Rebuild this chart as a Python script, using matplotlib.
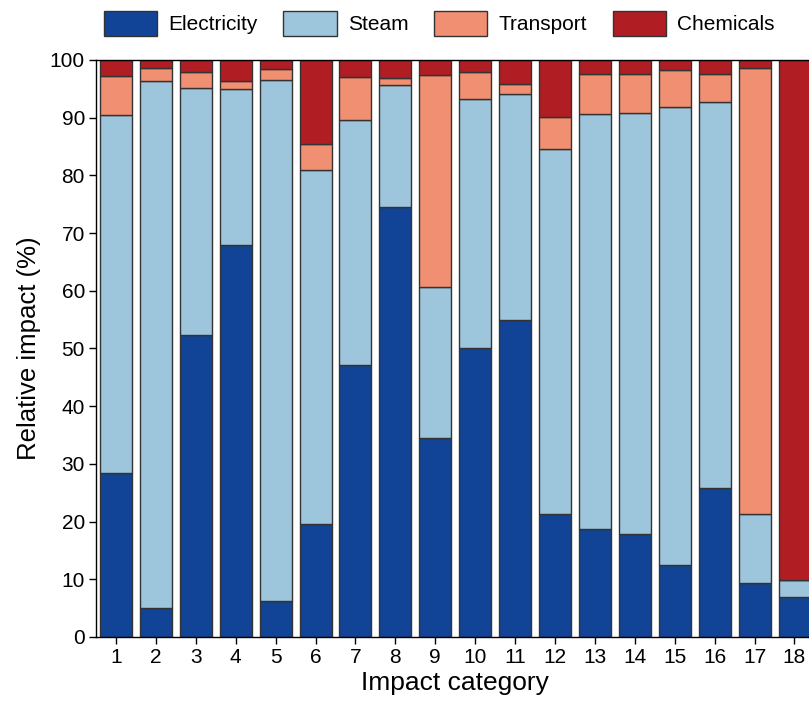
import numpy as np
import matplotlib
matplotlib.use('Agg')
import matplotlib.pyplot as plt

plt.rcParams['font.family'] = ['Liberation Sans', 'DejaVu Sans']

categories = list(range(1, 19))

# cumulative tops (%)
electricity_top = [28.5, 5.0, 52.3, 67.9, 6.3, 19.6, 47.2, 74.6, 34.4,
                   50.0, 55.0, 21.3, 18.8, 17.8, 12.5, 25.9, 9.4, 7.0]
steam_top = [90.4, 96.3, 95.1, 94.9, 96.5, 81.0, 89.6, 95.6, 60.6,
             93.3, 94.1, 84.6, 90.7, 90.8, 91.8, 92.8, 21.3, 9.8]
transport_top = [97.2, 98.6, 97.9, 96.4, 98.5, 85.4, 97.0, 96.8, 97.4,
                 97.9, 95.9, 90.2, 97.5, 97.5, 98.3, 97.5, 98.6, 9.8]

electricity = np.array(electricity_top)
steam = np.array(steam_top) - np.array(electricity_top)
transport = np.array(transport_top) - np.array(steam_top)
chemicals = 100 - np.array(transport_top)

labels = ['Electricity', 'Steam', 'Transport', 'Chemicals']
colors = ['#114496', '#9dc5dc', '#f08f71', '#b01e23']

fig = plt.figure(figsize=(8.09, 7.04), dpi=100)
# axes runs past the right edge, like the original crop
ax = fig.add_axes([0.1187, 0.0952, 0.888, 0.8196])

bottom = np.zeros(len(categories))
for vals, lab, col in zip([electricity, steam, transport, chemicals], labels, colors):
    ax.bar(categories, vals, bottom=bottom, width=0.8, color=col,
           edgecolor='#333333', linewidth=1, label=lab)
    bottom += vals

ax.set_xlim(0.5, 18.5)
ax.set_ylim(0, 100)
ax.set_yticks(np.arange(0, 101, 10))
ax.set_xticks(categories)
ax.tick_params(axis='both', labelsize=15, direction='out', length=5, width=1, pad=3)
ax.set_xlabel('Impact category', fontsize=19, labelpad=3)
ax.set_ylabel('Relative impact (%)', fontsize=18.5, labelpad=6)
for s in ax.spines.values():
    s.set_linewidth(1)

fig.legend(loc='upper center', bbox_to_anchor=(0.543, 1.011), ncol=4, frameon=False,
           fontsize=15, handlelength=2.55, handleheight=1.45, columnspacing=1.25,
           handletextpad=0.53)

fig.savefig('out.png', dpi=100)
